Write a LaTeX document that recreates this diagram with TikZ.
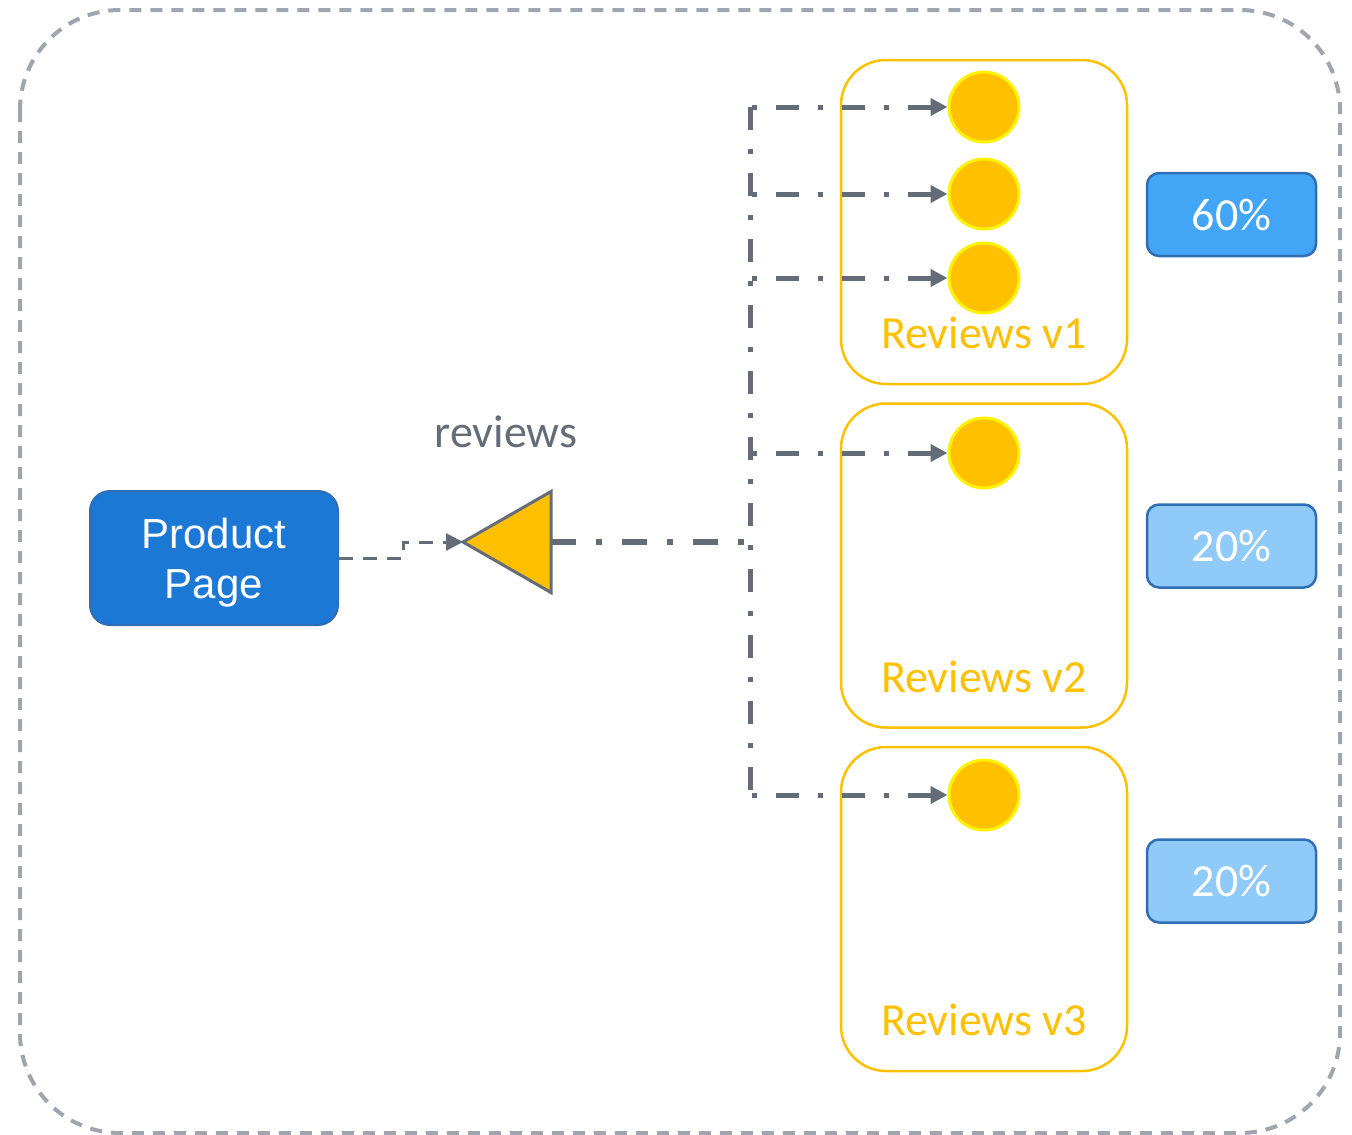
\documentclass[tikz,border=0pt]{standalone}
\usepackage{fontspec}
\setmainfont{Carlito}
\setsansfont{Liberation Sans}
\usetikzlibrary{arrows.meta,shapes.geometric}
\definecolor{meshline}{HTML}{646C78}
\definecolor{meshframe}{HTML}{A0A5AD}
\definecolor{meshblue}{HTML}{1B78D4}
\definecolor{meshedge}{HTML}{2F6EB5}
\definecolor{meshgold}{HTML}{FFC000}
\definecolor{meshlemon}{HTML}{FFF200}
\definecolor{meshsky}{HTML}{42A5F5}
\definecolor{meshpale}{HTML}{90CAF9}

\begin{document}
\begin{tikzpicture}[x=1pt, y=-1pt, font=\fontsize{46}{50}\selectfont, >={Triangle[length=17pt,width=17pt]}]
  \tikzset{svc/.style={draw=meshedge, line width=2pt, rounded corners=20pt, fill=meshblue, text=white, align=center,
             minimum width=248pt, minimum height=134pt, text depth=0pt, font=\sffamily\fontsize{42}{50}\selectfont},
           ver/.style={draw=meshgold, line width=2.5pt, rounded corners=45pt, minimum width=286pt, minimum height=324pt},
           verl/.style={text=meshgold},
           pod/.style={circle, draw=meshlemon, line width=3pt, fill=meshgold, minimum size=70pt, inner sep=0},
           share/.style={draw=meshedge, line width=2.5pt, rounded corners=12pt, text=white, minimum width=169pt, minimum height=83pt},
           route/.style={draw=meshline, line width=5pt, dash pattern=on 23pt off 19pt on 5pt off 19pt},
           link/.style={draw=meshline, line width=3pt, dash pattern=on 14pt off 10pt}}
  \useasboundingbox (0,0) rectangle (1352,1135);
  % frame
  \draw[meshframe, line width=4pt, dash pattern=on 12pt off 9pt, rounded corners=100pt] (20,10) rectangle (1340,1133);
  % product page and virtual service
  \node[svc] (pp) at (214,558) {Product\\Page};
  \node[isosceles triangle, isosceles triangle stretches, shape border rotate=180, draw=meshline, line width=3pt,
        fill=meshgold, minimum width=101pt, minimum height=88pt, inner sep=0, outer sep=0, anchor=apex] (vs) at (463,542) {};
  \node[text=meshline] (vsl) at (506,432) {reviews};
  \draw[link, ->] (pp.east) -- ++(64,0) |- (vs.apex);
  % versions
  \node[ver] (v1) at (984,222) {};
  \node[ver] (v2) at (984,565.5) {};
  \node[ver] (v3) at (984,909) {};
  \node[verl] (v1l) at (984,333) {Reviews v1};
  \node[verl] (v2l) at (984,677) {Reviews v2};
  \node[verl] (v3l) at (984,1020) {Reviews v3};
  % pods
  \node[pod] (p1) at (984,107) {};
  \node[pod] (p2) at (984,194) {};
  \node[pod] (p3) at (984,278) {};
  \node[pod] (p4) at (984,453) {};
  \node[pod] (p5) at (984,795) {};
  % weights
  \node[share, fill=meshsky] (w1) at (1231.5,214.5) {60\%};
  \node[share, fill=meshpale] (w2) at (1231.5,546) {20\%};
  \node[share, fill=meshpale] (w3) at (1231.5,881) {20\%};
  % routes
  \coordinate (j) at (750,542);
  \draw[route, line width=6pt, dash pattern=on 25pt off 20pt on 6pt off 20pt] (vs.east) -- (j);
  \foreach \i/\y in {1/107,2/194,3/278,4/453,5/795} {
    \coordinate (t\i) at (750,\y);
    \draw[route, dash phase=40pt, ->] (t\i) -- (p\i.west);
  }
  \draw[route] (t1) -- (t5);
\end{tikzpicture}
\end{document}
